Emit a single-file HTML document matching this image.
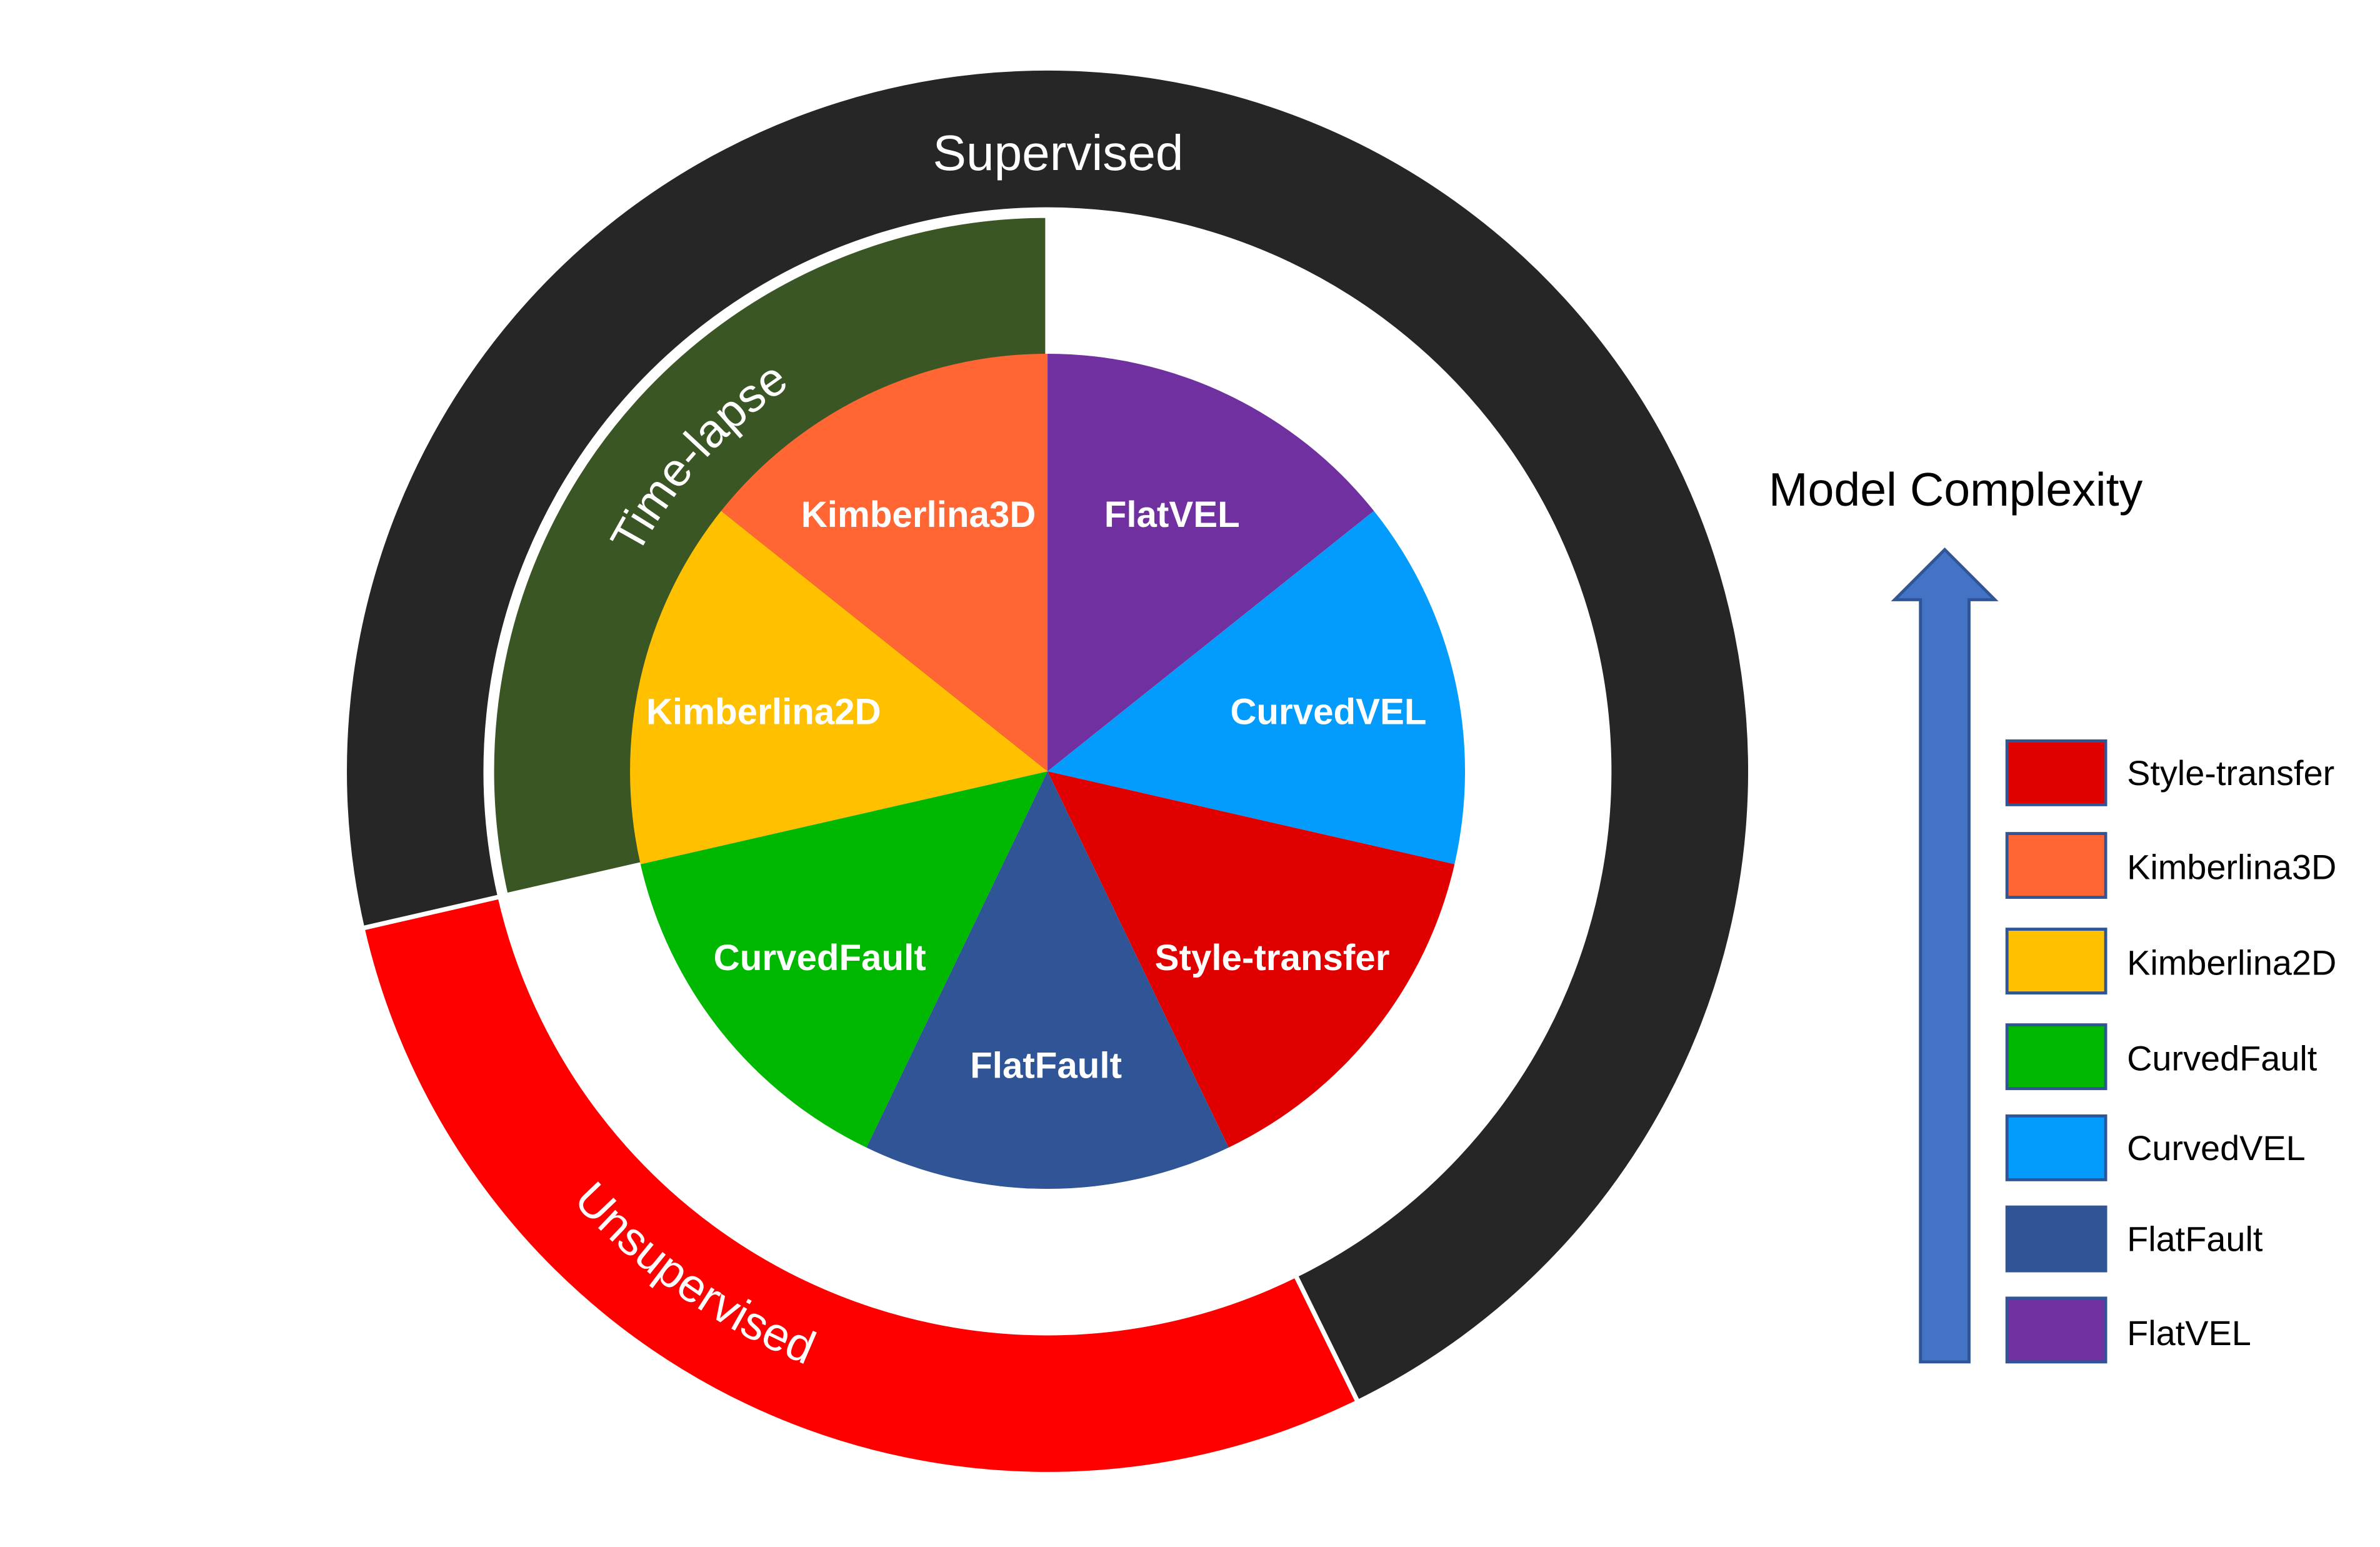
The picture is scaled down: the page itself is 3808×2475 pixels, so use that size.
<!DOCTYPE html>
<html><head><meta charset="utf-8"><style>
html,body{margin:0;padding:0;background:#fff;}
svg{display:block;}
</style></head><body>
<svg width="3808" height="2475" viewBox="0 0 1567.7 1018.9" xmlns="http://www.w3.org/2000/svg" font-family="'Liberation Sans', sans-serif">
<defs>
<path id="tl" d="M385.2,497.4 A305,305 0 0 1 647.5,206"/>
<path id="us" d="M293.4,652.3 A422,422 0 0 0 690,930"/>
</defs>
<rect width="1568" height="1019" fill="#fff"/>
<path d="M238.7,611.4 A463,463 0 1 1 894.4,923.4 L853.4,840 A370,370 0 1 0 329.3,590.6 Z" fill="#262626" stroke="#fff" stroke-width="3"/>
<path d="M894.4,923.4 A463,463 0 0 1 238.7,611.4 L329.3,590.6 A370,370 0 0 0 853.4,840 Z" fill="#ff0000" stroke="#fff" stroke-width="3"/>
<path d="M690,508 L333.2,589.7 A366,366 0 0 1 690,142 Z" fill="#3a5624" stroke="#fff" stroke-width="3"/>
<g>
<path d="M690,508 L690,233 A275,275 0 0 1 905,336.5 Z" fill="#7030a0"/>
<path d="M690,508 L905,336.5 A275,275 0 0 1 958.1,569.2 Z" fill="#049cfc"/>
<path d="M690,508 L958.1,569.2 A275,275 0 0 1 809.3,755.8 Z" fill="#e00000"/>
<path d="M690,508 L809.3,755.8 A275,275 0 0 1 570.7,755.8 Z" fill="#2f5597"/>
<path d="M690,508 L570.7,755.8 A275,275 0 0 1 421.9,569.2 Z" fill="#00b800"/>
<path d="M690,508 L421.9,569.2 A275,275 0 0 1 475,336.5 Z" fill="#ffc000"/>
<path d="M690,508 L475,336.5 A275,275 0 0 1 690,233 Z" fill="#ff6633"/>
</g>
<g fill="#fff" font-weight="bold" font-size="24" text-anchor="middle">
<text x="772" y="347">FlatVEL</text>
<text x="875" y="477">CurvedVEL</text>
<text x="838" y="639">Style-transfer</text>
<text x="689" y="710">FlatFault</text>
<text x="540" y="639">CurvedFault</text>
<text x="503" y="477">Kimberlina2D</text>
<text x="605" y="347">Kimberlina3D</text>
</g>
<text x="697" y="112" fill="#fff" font-size="33" text-anchor="middle">Supervised</text>
<text fill="#fff" font-size="31"><textPath href="#tl" startOffset="50%" text-anchor="middle">Time-lapse</textPath></text>
<text fill="#fff" font-size="31"><textPath href="#us" startOffset="50%" text-anchor="middle">Unsupervised</textPath></text>
<text x="1165" y="333" font-size="31" fill="#000">Model Complexity</text>
<path d="M1265,897 L1265,395 L1248,395 L1281,362 L1314,395 L1297,395 L1297,897 Z" fill="#4472c4" stroke="#2f5597" stroke-width="2"/>
<g stroke="#2f5597" stroke-width="2">
<rect x="1322" y="488" width="65" height="42" fill="#e00000"/>
<rect x="1322" y="549" width="65" height="42" fill="#ff6633"/>
<rect x="1322" y="612" width="65" height="42" fill="#ffc000"/>
<rect x="1322" y="675" width="65" height="42" fill="#00b800"/>
<rect x="1322" y="735" width="65" height="42" fill="#049cfc"/>
<rect x="1322" y="795" width="65" height="42" fill="#2f5597"/>
<rect x="1322" y="855" width="65" height="42" fill="#7030a0"/>
</g>
<g font-size="23" fill="#000">
<text x="1401" y="517">Style-transfer</text>
<text x="1401" y="579">Kimberlina3D</text>
<text x="1401" y="642">Kimberlina2D</text>
<text x="1401" y="705">CurvedFault</text>
<text x="1401" y="764">CurvedVEL</text>
<text x="1401" y="824">FlatFault</text>
<text x="1401" y="886">FlatVEL</text>
</g>
</svg>
</body></html>
